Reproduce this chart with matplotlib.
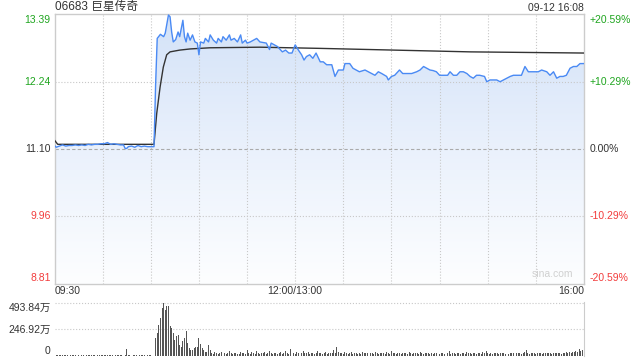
import numpy as np
import matplotlib
matplotlib.use('Agg')
import matplotlib.pyplot as plt
from matplotlib.colors import LinearSegmentedColormap
from matplotlib.patches import Polygon
import matplotlib.transforms as mtransforms

plt.rcParams['font.family'] = ['Liberation Sans', 'Noto Sans CJK SC']

# --- data (minutes of trading time after 09:30, lunch removed) ---
prev_close = 11.10
price_min = [0, 1, 3, 5, 7, 9, 11, 13, 15, 17, 19, 21, 23, 25, 27, 29, 31, 33, 35, 37,
             39, 41, 43, 44, 45, 46, 48, 50, 52, 54, 56, 58, 60, 62, 63, 64, 66, 68, 69, 71,
             72, 73, 74, 75.5, 77, 78, 80, 81, 82, 83, 84.5, 86, 87.5, 89, 90, 91, 93, 94, 96, 97,
             99, 101, 102, 104, 105, 107, 109, 110, 112, 114, 116, 117, 119, 120, 122, 124, 126, 128, 130, 132,
             134, 135, 137, 139, 142, 144, 146, 148, 150, 152, 154, 155.5, 157, 159, 161, 163, 165.6, 167.5, 169.6, 172.8,
             174.8, 176.9, 180, 181, 184, 186, 188, 190, 193.5, 195.6, 197.7, 199.7, 201.8, 203.9, 207, 208, 210, 212, 215, 217,
             219.5, 222.6, 225.7, 227.8, 230, 232, 234, 236, 238, 240, 242, 245, 246.5, 248.6, 250.7, 252.7, 254.8, 257, 259, 261,
             263, 265, 268, 269.4, 271.4, 273.5, 275.6, 277.7, 279.8, 281.8, 284, 286, 289, 291, 293.2, 295.3, 298.4, 301.5, 303.6, 306.8,
             308.8, 311, 313, 315, 317, 319, 321.3, 323.4, 325.5, 327.5, 330]
price = [11.16, 11.13, 11.15, 11.17, 11.15, 11.16, 11.16, 11.17, 11.16, 11.17, 11.16, 11.18, 11.17, 11.18, 11.18, 11.19, 11.19, 11.21, 11.18, 11.19,
         11.18, 11.17, 11.17, 11.11, 11.11, 11.14, 11.15, 11.13, 11.16, 11.14, 11.15, 11.14, 11.14, 11.14, 12.20, 12.99, 13.06, 13.02, 13.08, 13.39,
         13.36, 13.10, 12.93, 12.97, 13.10, 13.02, 13.30, 13.02, 12.93, 13.08, 12.96, 13.05, 12.93, 12.91, 12.71, 12.93, 12.91, 12.99, 12.93, 13.05,
         12.96, 12.91, 12.99, 12.93, 13.02, 12.96, 13.05, 12.96, 12.99, 12.93, 13.05, 12.91, 12.96, 12.91, 12.93, 12.96, 12.99, 12.93, 12.92, 12.91,
         12.80, 12.91, 12.88, 12.85, 12.76, 12.79, 12.74, 12.74, 12.88, 12.79, 12.71, 12.62, 12.68, 12.71, 12.65, 12.74, 12.59, 12.59, 12.54, 12.54,
         12.34, 12.45, 12.45, 12.56, 12.56, 12.48, 12.45, 12.42, 12.45, 12.42, 12.39, 12.36, 12.42, 12.39, 12.34, 12.28, 12.34, 12.36, 12.45, 12.39,
         12.39, 12.39, 12.42, 12.45, 12.51, 12.48, 12.45, 12.44, 12.42, 12.36, 12.36, 12.36, 12.42, 12.36, 12.36, 12.42, 12.42, 12.39, 12.34, 12.31,
         12.36, 12.36, 12.34, 12.25, 12.28, 12.28, 12.28, 12.25, 12.28, 12.31, 12.34, 12.36, 12.36, 12.36, 12.51, 12.42, 12.42, 12.42, 12.45, 12.42,
         12.36, 12.42, 12.31, 12.34, 12.34, 12.36, 12.48, 12.51, 12.51, 12.56, 12.56]

avg_min = [0, 2, 30, 62, 63.7, 65.8, 67.8, 69.9, 72, 78, 84.5, 97, 128, 165, 259, 330]
avg_price = [11.25, 11.18, 11.18, 11.18, 11.71, 12.16, 12.50, 12.71, 12.76, 12.79, 12.81, 12.83, 12.84, 12.82, 12.76, 12.74]

# volume per minute, in 万
volume = [14, 6, 8, 5, 9, 7, 5, 8, 6, 4, 7, 9, 5, 6, 8, 5, 4, 7, 6, 5, 8, 6, 7, 5, 9, 6, 4, 5, 7, 6,
          5, 8, 6, 12, 7, 5, 6, 4, 8, 5, 6, 7, 5, 4, 6, 65, 5, 7, 4, 6, 5, 8, 4, 5, 6, 7, 5, 4, 6, 5,
          6, 4, 8,
          168, 215, 288, 351, 446, 493.84, 427, 468, 468, 278, 263, 215, 152, 183, 199, 104, 88, 136, 168, 231,
          120, 73, 57, 57, 73, 88, 88, 168, 111, 73, 57, 41, 41, 104, 57,
          30, 22, 35, 28, 20, 25, 38, 22, 30, 18, 26, 45, 24, 20, 32, 28, 22, 19, 40, 25, 30, 22, 60, 26, 20, 34, 28, 22, 45, 25,
          20, 30, 24, 38, 22, 26, 50, 28, 20, 24, 32, 22, 27, 35, 20, 25, 42, 30, 22, 68, 28, 24, 20, 36, 26, 22, 30, 45, 24, 28,
          35, 22, 26, 30, 20, 28, 45, 24, 32, 22, 26, 38, 20, 28, 24, 30, 55, 26, 80, 35, 24, 30, 22, 40, 26, 20, 28, 34, 22, 25,
          30, 22, 28, 20, 35, 24, 26, 32, 20, 28, 24, 22, 38, 26, 20, 30, 24, 28, 22, 34, 26, 20, 45, 24, 28, 22, 30, 26, 20, 32,
          24, 28, 22, 36, 26, 20, 30, 24, 28, 22, 34, 26, 20, 28, 24, 30, 22, 26, 20, 32, 28, 24, 22, 30, 26, 20, 28, 24, 48, 22,
          30, 26, 20, 28, 24, 22, 30, 26, 20, 34, 24, 28, 22, 26, 30, 20, 24, 28, 22, 36, 26, 45, 24, 20, 28, 22, 30, 26, 24, 20,
          28, 24, 30, 22, 26, 20, 32, 24, 28, 22, 26, 30, 24, 20, 28, 34, 58, 26, 22, 30, 24, 28, 20, 26, 32, 24, 22, 28, 26, 30,
          24, 28, 22, 30, 26, 24, 32, 28, 22, 30, 26, 34, 28, 36, 30, 40, 34, 45, 38, 65, 42, 60, 48]

price_ticks = [13.39, 12.24, 11.10, 9.96, 8.81]
pct_labels = ['+20.59%', '+10.29%', '0.00%', '-10.29%', '-20.59%']
vol_ticks = [493.84, 246.92, 0]
vol_labels = ['493.84万', '246.92万', '0']
x_labels = ['09:30', '12:00/13:00', '16:00']
x_label_pos = [0, 150, 330]

GREEN = '#1fa51f'
RED = '#f23c3c'
DARK = '#333333'
GRID = '#c8c8c8'

fig = plt.figure(figsize=(6.4, 3.6), dpi=100)
ax = fig.add_axes([0.0852, 0.2111, 0.8273, 0.75])
axv = fig.add_axes([0.0852, 0.0111, 0.8273, 0.15])

ymin, ymax = 8.81 - 0.0171, 13.39 + 0.0171
ax.set_xlim(0, 330)
ax.set_ylim(ymin, ymax)

# gradient fill under price line
cmap = LinearSegmentedColormap.from_list('fill', ['#fdfeff', '#eaf1fc', '#d3e2f8'])
grad = np.linspace(0, 1, 256).reshape(-1, 1)
img = ax.imshow(grad, extent=[0, 330, ymin, ymax], aspect='auto', origin='lower',
                cmap=cmap, zorder=1, interpolation='bilinear')
verts = np.column_stack([np.r_[price_min, price_min[-1], price_min[0]],
                         np.r_[price, ymin, ymin]])
clip = Polygon(verts, closed=True, facecolor='none', edgecolor='none', transform=ax.transData)
ax.add_patch(clip)
img.set_clip_path(clip)

# grid
for t in np.arange(30, 330, 30):
    ax.axvline(t, color=GRID, lw=0.8, ls=':', zorder=2)
for v in price_ticks[1:-1]:
    if v == prev_close:
        ax.axhline(v, color='#aaaaaa', lw=0.8, ls=(0, (3, 2)), zorder=2)
    else:
        ax.axhline(v, color=GRID, lw=0.8, ls=':', zorder=2)

ax.plot(price_min, price, color='#4a8af4', lw=1.0, zorder=4)
ax.plot(avg_min, avg_price, color=DARK, lw=1.0, zorder=3)

ax.set_xticks([])
ax.set_yticks([])
for s in ax.spines.values():
    s.set_color('#cccccc')
    s.set_linewidth(1)

# price / percent labels
trans_l = mtransforms.blended_transform_factory(ax.transAxes, ax.transData)
colors = [GREEN, GREEN, DARK, RED, RED]
for i, (v, pl, c) in enumerate(zip(price_ticks, pct_labels, colors)):
    va = 'top' if i == 0 else ('bottom' if i == len(price_ticks) - 1 else 'center')
    ax.text(-0.007, v, f'{v:.2f}', transform=trans_l, ha='right', va=va, color=c, fontsize=7.5)
    ax.text(1.01, v, pl, transform=trans_l, ha='left', va=va, color=c, fontsize=7.5)

for lbl, pos, ha in zip(x_labels, x_label_pos, ['left', 'center', 'right']):
    ax.text(pos, ymin - 0.12, lbl, ha=ha, va='center', color=DARK, fontsize=7.5)

fig.text(0.0852, 0.98, '06683 巨星传奇', ha='left', va='center', color=DARK, fontsize=8.5)
fig.text(0.9125, 0.978, '09-12 16:08', ha='right', va='center', color=DARK, fontsize=7.5)
ax.text(0.94, 0.02, 'sina.com', transform=ax.transAxes, ha='center', va='bottom',
        color='#d0d0d0', fontsize=7.5)

# volume panel
vmax = 493.84 * 52.8 / 52
axv.set_xlim(0, 330)
axv.set_ylim(0, vmax)
axv.bar(np.arange(len(volume)), volume, width=0.6, color='#555555', zorder=3)
for v in vol_ticks[:2]:
    axv.axhline(v, color=GRID, lw=0.8, ls=':', zorder=1)
axv.set_xticks([])
axv.set_yticks([])
for k, s in axv.spines.items():
    s.set_visible(k == 'right')
    s.set_color('#cccccc')
trans_v = mtransforms.blended_transform_factory(axv.transAxes, axv.transData)
for i, (v, lbl) in enumerate(zip(vol_ticks, vol_labels)):
    va = 'top' if i == 0 else ('bottom' if i == len(vol_ticks) - 1 else 'center')
    axv.text(-0.007, v, lbl, transform=trans_v, ha='right', va=va, color=DARK, fontsize=7.5)

fig.savefig('out.png', dpi=100)
